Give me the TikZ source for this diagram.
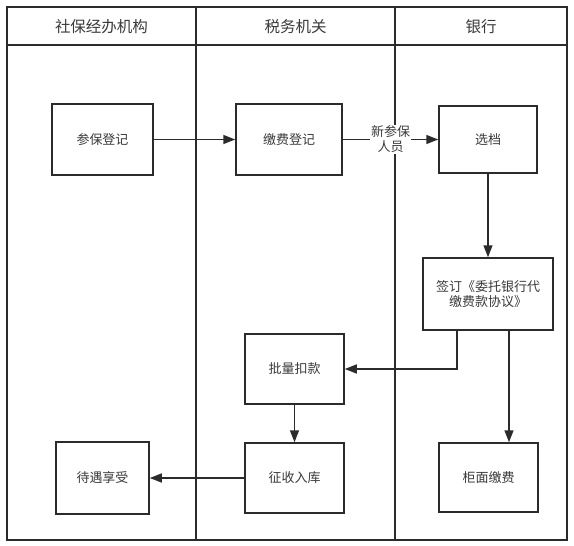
\documentclass[tikz,border=0pt]{standalone}
\usepackage{fontspec}
\setmainfont{Noto Sans CJK SC}
\usetikzlibrary{arrows.meta}
\definecolor{ln}{HTML}{2B2B2B}
\definecolor{tx}{HTML}{3A3A3A}
\tikzset{
  box/.style={draw=ln, line width=1.5pt, minimum width=#1, inner sep=0pt, text=tx, font=\fontsize{13}{15.5}\selectfont, align=center},
  box/.default=98pt,
  head/.style={text=tx, font=\fontsize{15.5}{18}\selectfont},
  lane/.style={draw=ln, line width=1.4pt},
  arr/.style={draw=ln, line width=1.6pt, -{Triangle[length=12pt,width=9pt]}},
  lbl/.style={fill=white, text=tx, font=\fontsize{13}{15}\selectfont, align=center, inner sep=1pt}
}
\begin{document}
\begin{tikzpicture}[x=1pt,y=-1pt]
\useasboundingbox[fill=white] (0,0) rectangle (574,546);
% lanes
\draw[lane] (7,7) rectangle (567,540);
\draw[lane] (7,45) -- (567,45);
\draw[lane] (196,7) -- (196,540);
\draw[lane] (395,7) -- (395,540);
\node[head] (h1) at (101.5,27) {社保经办机构};
\node[head] (h2) at (295.5,27) {税务机关};
\node[head] (h3) at (481,27) {银行};
% boxes
\node[box=101pt, minimum height=71pt] (cbdj) at (102.5,139.5) {参保登记};
\node[box=106pt, minimum height=71pt] (jfdj) at (289,139.5) {缴费登记};
\node[box=98pt, minimum height=67pt] (xd) at (488,139.5) {选档};
\node[box=130pt, minimum height=72pt] (qd) at (488,294) {签订《委托银行代\\缴费款协议》};
\node[box=99pt, minimum height=70pt] (plkk) at (294.5,369) {批量扣款};
\node[box=99pt, minimum height=70pt] (zsrk) at (294.5,478) {征收入库};
\node[box=93pt, minimum height=72pt] (dyxs) at (102.5,478) {待遇享受};
\node[box=99pt, minimum height=69pt] (gmjf) at (488.5,477.5) {柜面缴费};
% connectors
\draw[arr] (cbdj) -- (jfdj);
\draw[arr] (jfdj) -- node[lbl] (xcb) {新参保\\人员} (xd);
\draw[arr] (xd) -- (qd);
\draw[arr] (qd.south -| 457,0) |- (plkk.east);
\draw[arr] (qd.south -| 509,0) -- (gmjf.north -| 509,0);
\draw[arr] (plkk) -- (zsrk);
\draw[arr] (zsrk) -- (dyxs);
\end{tikzpicture}
\end{document}
